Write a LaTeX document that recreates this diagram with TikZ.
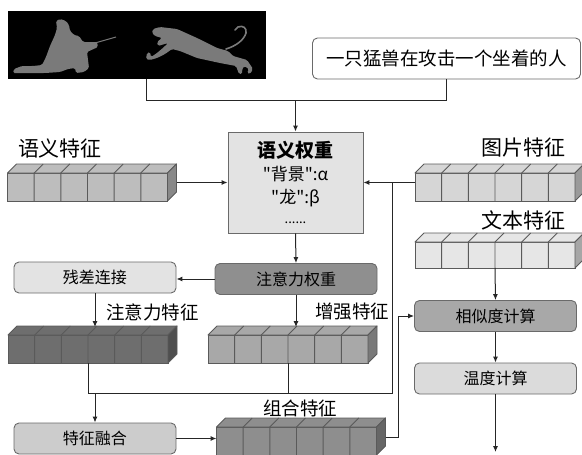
\documentclass[tikz,border=0pt]{standalone}
\usepackage{fontspec}
\newfontfamily\cjkfont{Noto Sans CJK SC}
\usetikzlibrary{calc,arrows.meta}

\definecolor{boxline}{HTML}{6A6A6A}
\definecolor{barline}{HTML}{5A5A5A}
\definecolor{semfill}{HTML}{BDBDBD}
\definecolor{imgfill}{HTML}{D6D6D6}
\definecolor{txtfill}{HTML}{E6E6E6}
\definecolor{attfill}{HTML}{6E6E6E}
\definecolor{enhfill}{HTML}{A8A8A8}
\definecolor{combfill}{HTML}{8E8E8E}
\definecolor{figgray}{HTML}{7A7A7A}

% feature bar: front face is the node, top/side faces and cells drawn after it
\newcommand{\featbar}[4][28pt]{%
  \node[bar, minimum height=#1, fill=#4] (#2) at (#3) {};
  \filldraw[barline, line width=0.9pt, line join=round, fill=#4]
    (#2.north west) -- ++(9pt,9pt) -- ([shift={(9pt,9pt)}]#2.north east) -- (#2.north east) -- cycle;
  \filldraw[barline, line width=0.9pt, line join=round, fill=#4!72!black]
    (#2.north east) -- ++(9pt,9pt) -- ([shift={(9pt,9pt)}]#2.south east) -- (#2.south east) -- cycle;
  \foreach \k in {1,...,5}
    \draw[barline, line width=0.9pt]
      ($(#2.south west)!\k/6!(#2.south east)$) -- ($(#2.north west)!\k/6!(#2.north east)$) -- ++(9pt,9pt);
}

\begin{document}
\cjkfont
\begin{tikzpicture}[x=1pt, y=-1pt, node distance=62.5pt,
    >={Latex[length=6pt,width=5pt]},
    bar/.style={rectangle, draw=barline, line width=0.9pt, minimum width=160pt, inner sep=0pt, outer sep=0pt},
    box/.style={rectangle, rounded corners=5pt, draw=boxline, line width=0.9pt, minimum width=162pt, minimum height=31pt, inner sep=0pt, font=\fontsize{16}{18}\selectfont},
    head/.style={inner sep=0pt, font=\fontsize{21}{24}\selectfont},
    tag/.style={inner sep=0pt, font=\fontsize{18.5}{20}\selectfont},
    link/.style={line width=1pt, draw=black!85}]
    \useasboundingbox (0,0) rectangle (582,455);

    % Input picture and caption
    \node[rectangle, fill=black, minimum width=258pt, minimum height=68pt, inner sep=0pt] (photo) at (137,45) {};
    % kneeling figure
    \fill[figgray, rounded corners=1.5pt] (56,21) -- (60,19) -- (66,21) -- (69,25) -- (70,31) -- (74,35)
        -- (79,36) -- (83,42) -- (97,42) -- (98,47) -- (87,52) -- (88,60) -- (89,68) -- (84,72) -- (76,73)
        -- (75,68) -- (68,69) -- (60,72) -- (45,73) -- (30,73) -- (13,73) -- (14,69) -- (22,66) -- (33,66)
        -- (42,65) -- (46,57) -- (50,46) -- (55,35) -- (57,28) -- cycle;
    \draw[figgray, line width=1pt] (95,43) -- (116,37);
    % leaping cat
    \fill[figgray, rounded corners=1.5pt] (153,29) -- (160,27) -- (177,29) -- (197,38) -- (217,48) -- (228,51)
        -- (233,56) -- (240,58) -- (247,60) -- (253,69) -- (250,74) -- (247,73) -- (249,69) -- (244,66)
        -- (242,70) -- (242,74) -- (239,74) -- (236,66) -- (220,63) -- (197,58) -- (180,51) -- (172,49)
        -- (165,54) -- (157,58) -- (150,60) -- (146,59) -- (147,53) -- (150,52) -- (151,57) -- (157,53)
        -- (164,47) -- (168,43) -- (158,46) -- (157,42) -- (162,38) -- (155,36) -- (152,33) -- cycle;
    \draw[figgray, line width=1.6pt, line cap=round] (226,49) .. controls (236,46) and (244,40) .. (246,33)
        .. controls (247,28) and (243,25) .. (238,27) -- (235,30);
    \node[box, fill=white, minimum width=268pt, minimum height=41pt, font=\fontsize{18.5}{20}\selectfont] (caption) at (446.5,58.5) {一只猛兽在攻击一个坐着的人};

    % Semantic weights
    \node[rectangle, draw=boxline, line width=0.9pt, fill=black!11, minimum width=135pt, minimum height=101pt,
          align=center, font=\fontsize{17}{23}\selectfont] (weights) at (295.5,182.5)
        {{\fontsize{19}{23}\selectfont\bfseries 语义权重}\\"背景":α\\"龙":β\\[-3pt]{\fontsize{13}{16}\selectfont ......}};

    % Feature bars
    \featbar{sem}{87.5,187}{semfill}
    \featbar{img}{495,187}{imgfill}
    \featbar[26pt]{txt}{495,255}{txtfill}
    \featbar{att}{88,349}{attfill}
    \featbar{enh}{288,349}{enhfill}
    \featbar{comb}{296.5,441}{combfill}

    % Processing steps
    \node[box, fill=black!44] (attw) at (296,279) {注意力权重};
    \node[box, fill=black!11] (resid) at (95,277.5) {残差连接};
    \node[box, fill=black!20] (fuse) at (95,438.5) {特征融合};
    \node[box, fill=black!34] (sim) at (495.5,316) {相似度计算};
    \node[box, fill=black!14, below of=sim] (temp) {温度计算};

    % Labels
    \node[head] (semlabel) at (60,148) {语义特征};
    \node[head] (imglabel) at (523,148) {图片特征};
    \node[head] (txtlabel) at (523,220) {文本特征};
    \node[tag, anchor=west] (attlabel) at (106,312) {注意力特征};
    \node[tag] (enhlabel) at (352,312) {增强特征};
    \node[tag] (comblabel) at (300,408) {组合特征};

    % Helper points
    \coordinate (join) at (295.5,100);
    \coordinate (tap) at (392,182.5);
    \coordinate (busL) at (88,393);
    \coordinate (busR) at (392,393);
    \coordinate (atttop) at ([yshift=8pt]att.north);
    \coordinate (enhtop) at ([yshift=8pt]enh.north);
    \coordinate (out) at (495.5,452);

    % Arrows
    \draw[link] ([xshift=9pt]photo.south) |- (join);
    \draw[link] (caption.south) |- (join);
    \draw[link, ->] (join) -- (weights.north);
    \draw[link, ->] ([shift={(9pt,4.5pt)}]sem.east) -- (weights);
    \draw[link, ->] ([yshift=4.5pt]img.west) -- (weights);
    \draw[link, ->] (weights.south) -- (attw.north);
    \draw[link, ->] (attw.west) -- (attw.west -| resid.east);
    \draw[link, ->] (resid.south) -- (resid.south |- atttop);
    \draw[link, ->] (attw.south) -- (attw.south |- enhtop);
    \draw[link] (att.south) -- (busL) -- (busR) -- (tap);
    \draw[link] (enh.south) -- (enh.south |- busL);
    \draw[link, ->] (fuse.north |- busL) -- (fuse.north);
    \draw[link, ->] (fuse.east) -- (fuse.east -| comb.west);
    \draw[link, ->] ([shift={(9pt,4pt)}]comb.east) -| ([xshift=-16pt]sim.west) -- (sim.west);
    \draw[link, ->] (txt.south) -- (sim.north);
    \draw[link, ->] (sim.south) -- (temp.north);
    \draw[link, ->] (temp.south) -- (out);
\end{tikzpicture}
\end{document}
